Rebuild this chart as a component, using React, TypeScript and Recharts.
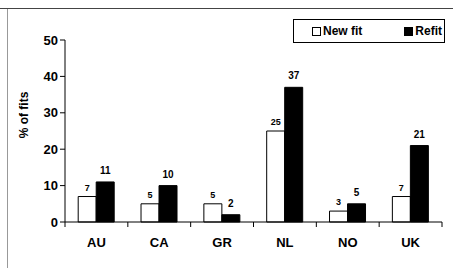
import { Bar, BarChart, LabelList, XAxis, YAxis } from "recharts";

const countries = ["AU", "CA", "GR", "NL", "NO", "UK"];
const newFit = [7, 5, 5, 25, 3, 7];
const refit = [11, 10, 2, 37, 5, 21];
const yTicks = [0, 10, 20, 30, 40, 50];

const data = countries.map((c, i) => ({ country: c, newFit: newFit[i], refit: refit[i] }));

const FONT = "'Liberation Sans', Arial, Helvetica, sans-serif";
const W = 453;
const H = 268;
const LEFT = 65;
const RIGHT = 11;
const BAND = (W - LEFT - RIGHT) / countries.length;

// tick marks sit on the category boundaries, label in the middle
function CountryTick(props: any) {
  const { x, y, payload, index } = props;
  const left = x - BAND / 2;
  return (
    <g>
      <line x1={left} y1={y - 8} x2={left} y2={y - 3} stroke="#000" />
      {index === countries.length - 1 && (
        <line x1={left + BAND} y1={y - 8} x2={left + BAND} y2={y - 3} stroke="#000" />
      )}
      <text x={x} y={y + 17} textAnchor="middle" fontSize={13} fontWeight="bold" fontFamily={FONT} fill="#000">
        {payload.value}
      </text>
    </g>
  );
}

function LegendBox() {
  const item = (fill: string, label: string) => (
    <span style={{ display: "inline-flex", alignItems: "center" }}>
      <span
        style={{
          display: "inline-block",
          width: 7,
          height: 7,
          border: "1px solid #000",
          background: fill,
          marginRight: 2,
        }}
      />
      {label}
    </span>
  );
  return (
    <div
      style={{
        position: "absolute",
        left: 293,
        top: 19,
        boxSizing: "border-box",
        width: 152,
        height: 24,
        border: "1px solid #000",
        display: "flex",
        justifyContent: "space-between",
        alignItems: "center",
        padding: "0 2px 0 18px",
        fontFamily: FONT,
        fontSize: 12,
        fontWeight: "bold",
        color: "#000",
        background: "#fff",
        zIndex: 1,
      }}
    >
      {item("#fff", "New fit")}
      {item("#000", "Refit")}
    </div>
  );
}

export default function App() {
  return (
    <div style={{ position: "absolute", left: 0, top: 0, width: W, height: H, background: "#fff" }}>
      <div style={{ position: "absolute", left: 0, top: 8, width: W, height: 1, background: "#444" }} />
      <div style={{ position: "absolute", left: 7, top: 9, width: 1, height: H - 9, background: "#999" }} />
      <LegendBox />
      <BarChart
        width={W}
        height={H}
        data={data}
        margin={{ top: 40, right: RIGHT, left: 20, bottom: 16 }}
        barCategoryGap="21%"
        barGap={0}
      >
        <XAxis
          dataKey="country"
          height={30}
          axisLine={{ stroke: "#000" }}
          tickLine={false}
          tick={<CountryTick />}
          interval={0}
        />
        <YAxis
          width={45}
          domain={[0, 50]}
          ticks={yTicks}
          axisLine={{ stroke: "#000" }}
          tickLine={{ stroke: "#000" }}
          tickSize={5}
          tick={{ fontSize: 13, fontWeight: "bold", fill: "#000", fontFamily: FONT }}
          label={{
            content: () => (
              <text
                x={28}
                y={115}
                transform="rotate(-90 28 115)"
                textAnchor="middle"
                fontSize={12}
                fontWeight="bold"
                fontFamily={FONT}
                fill="#000"
              >
                % of fits
              </text>
            ),
          }}
        />
        <Bar dataKey="newFit" name="New fit" fill="#fff" stroke="#000" strokeWidth={1} isAnimationActive={false}>
          <LabelList dataKey="newFit" position="top" offset={6} fontSize={9} fontWeight="bold" fontFamily={FONT} fill="#000" />
        </Bar>
        <Bar dataKey="refit" name="Refit" fill="#000" stroke="#000" strokeWidth={1} isAnimationActive={false}>
          <LabelList dataKey="refit" position="top" offset={8} fontSize={10} fontWeight="bold" fontFamily={FONT} fill="#000" />
        </Bar>
      </BarChart>
    </div>
  );
}
